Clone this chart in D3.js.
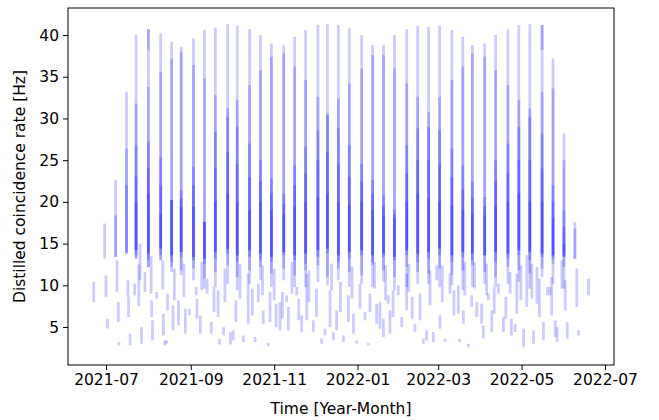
<!DOCTYPE html>
<html>
<head>
<meta charset="utf-8">
<script src="https://cdn.jsdelivr.net/npm/d3@7"></script>
<style>
  body { margin: 0; background: #fff; }
  svg { display: block; }
  text { font-family: "DejaVu Sans", sans-serif; }
</style>
</head>
<body>
<svg id="chart" width="659" height="420"></svg>
<script>
// all times are days since 2021-07-01
var colDay  = [-9, -1, 7, 15, 22, 31, 40, 48, 55, 64, 72, 80, 89, 96, 105, 113, 121, 130, 138, 146, 155, 162, 170,
               178, 187, 195, 203, 211, 220, 228, 236, 244, 253, 261, 268, 277, 285, 294, 302, 310, 319, 327, 335, 343, 353];
var colTop  = [10.4, 17.4, 22.6, 33.2, 40.0, 40.7, 40.2, 39.2, 38.6, 39.6, 40.6, 40.9, 41.3, 41.1, 40.7, 40.0, 39.0, 38.8, 39.8,
               40.6, 41.2, 41.3, 41.2, 40.8, 40.0, 38.8, 38.8, 40.0, 40.7, 41.1, 41.0, 41.1, 40.6, 39.8, 38.8, 39.0, 40.0, 40.7,
               41.2, 41.3, 41.2, 37.2, 28.2, 17.6, 10.8];
var colLow  = [8.0, 13.2, 13.4, 13.8, 13.2, 12.2, 13.0, 12.2, 11.8, 10.6, 9.6, 9.8, 10.2, 9.4, 10.2, 10.6, 9.8, 10.6, 9.8,
               9.8, 10.4, 10.0, 10.6, 9.8, 10.2, 9.8, 10.4, 9.4, 9.8, 10.2, 10.2, 9.8, 10.0, 9.4, 9.8, 10.2, 9.8, 10.2,
               10.4, 9.6, 11.0, 10.2, 9.6, 13.2, 8.8];
var colMid  = [null, null, 18.4, 26.4, 31.8, 33.8, 35.6, 37.2, 38.0, 36.4, 34.8, 32.8, 31.2, 32.2, 34.0, 35.8, 37.4, 37.8, 36.2,
               34.6, 32.6, 30.6, 32.4, 34.2, 36.0, 37.6, 37.6, 36.0, 34.2, 32.6, 30.8, 32.6, 34.6, 36.2, 37.8, 37.4, 35.8, 34.0,
               32.2, 31.2, 33.2, 33.6, 25.0, 16.8, null];
var midLow  = [null, null, 13.4, 13.8, 13.2, 12.2, 13.0, 11.6, 11.2, 12.0, 10.8, 11.6, 12.4, 11.0, 11.8, 12.2, 11.4, 12.0, 11.2,
               11.8, 12.4, 11.0, 12.0, 11.6, 11.2, 12.4, 11.8, 11.0, 12.2, 11.6, 11.4, 12.0, 11.2, 11.8, 12.4, 11.6, 11.0, 12.2,
               11.8, 11.4, 12.0, 12.6, 12.2, 13.2, null];
var colCore = [null, null, null, 22.0, 26.8, 27.2, 25.4, 20.2, 21.4, 24.2, 17.6, 28.4, 30.2, 29.0, 27.0, 25.0, 22.8, 21.0, 24.4,
               26.6, 28.6, 30.4, 28.8, 26.8, 24.6, 22.6, 20.8, 19.0, 26.8, 28.8, 29.0, 28.6, 26.4, 24.4, 22.4, 20.6, 25.0, 27.0,
               29.0, 30.2, 28.2, 22.0, 19.0, null, null];
var coreLow = [null, null, null, 14.0, 13.6, 13.0, 13.6, 12.8, 13.4, 13.0, 12.6, 13.2, 13.8, 12.8, 13.4, 13.0, 12.8, 13.6, 13.0,
               12.6, 13.4, 13.8, 12.8, 13.2, 13.6, 12.8, 13.4, 13.0, 13.6, 12.8, 13.2, 13.6, 12.8, 13.4, 13.0, 13.6, 12.8, 13.2,
               13.6, 13.0, 13.4, 13.2, 13.6, null, null];
var colBody = [null, null, null, null, 23.0, 24.0, 22.0, 20.2, 20.4, 22.0, 17.6, 24.0, 26.0, 24.5, 23.0, 22.5, 21.0, 19.8, 22.0,
               23.5, 25.0, 26.0, 24.5, 23.0, 22.5, 21.0, 19.6, 18.5, 23.5, 25.0, 25.0, 24.5, 23.0, 21.5, 20.5, 19.5, 22.5, 23.5,
               25.0, 25.0, 24.0, 20.0, 17.0, null, null];
var colPeak = [null, null, null, null, 20.0, 21.0, 18.6, 20.2, 19.4, 19.4, 17.6, 20.0, 21.0, 20.0, 19.0, 20.0, 19.0, 18.6, 19.4,
               20.0, 20.6, 21.0, 20.0, 19.6, 20.0, 19.0, 18.4, 18.0, 20.0, 21.0, 20.4, 20.0, 19.6, 19.0, 18.6, 18.4, 19.6, 20.0,
               21.0, 20.0, 20.0, 18.0, 15.0, null, null];
var peakLow = [null, null, null, null, 14.2, 13.8, 14.4, 13.6, 14.0, 13.4, 13.2, 14.0, 14.4, 13.6, 14.2, 13.8, 13.4, 14.0, 13.6,
               13.8, 14.2, 14.4, 13.6, 14.0, 14.2, 13.6, 13.8, 13.4, 14.2, 13.8, 14.0, 14.4, 13.6, 14.0, 13.8, 13.6, 14.0, 13.8,
               14.2, 14.0, 13.8, 13.6, 13.4, null, null];

// short passes between the main columns
var shortDay = [0, 1, 8, 9, 9.5, 16, 16.5, 17.6, 24.9, 21, 26, 28.5, 33.4, 34, 31, 37, 42, 44.4, 45, 43,
                49, 53, 58, 61, 66, 69, 74, 77, 82, 83, 86, 91, 93, 95, 100.5, 104, 109, 111.4, 115, 118.7,
                120, 124.4, 127.3, 132.2, 133.4, 139.5, 143.1, 146.8, 151.6, 157.7, 160.2, 163.9, 166.3, 168.7, 173.6, 177.3,
                183.4, 185.8, 189.5, 191.9, 193.1, 198, 200.4, 202.9, 206.5, 207.7, 213.8, 216.3, 219.9, 226, 229.7,
                232.1, 234.5, 239.4, 241.9, 244.3, 248, 251.6, 257.7, 258.5, 261.4, 265, 267.5, 271.2, 274.8, 279.7,
                282.2, 287, 290.7, 295.6, 299.3, 300.5, 305.4, 307.8, 312.7, 315.2, 320, 324.9, 328.6, 335.9, 337.4,
                344.4, 345.6, 319, 323,
                24, 33, 41.5, 50, 57, 66.5, 70, 79, 87, 98, 107, 114.5, 123, 129, 136, 141, 148.5, 154, 165, 171.5,
                180, 181, 196.5, 204.5, 210, 221.5, 224, 237, 246, 254.5, 262.5, 269.5, 276, 278.5, 284, 292.5, 296.5,
                303.5, 311.5, 317, 326, 330, 333.5];
var shortLo  = [8.6, 4.8, 9.2, 5.6, 2.8, 8.6, 6.2, 2.8, 10.6, 8.8, 3.0, 9.2, 6.2, 3.4, 38.2, 8.4, 4.0, 3.0, 7.0, 2.8,
                4.6, 5.2, 4.2, 6.4, 8.8, 4.2, 9.0, 4.2, 6.2, 2.9, 4.0, 2.9, 3.4, 5.6, 3.2, 5.4, 3.2, 8.0, 5.4, 2.7,
                5.6, 5.0, 4.6, 8.0, 4.6, 8.8, 4.4, 5.8, 4.4, 3.0, 4.0, 5.0, 3.4, 4.6, 3.2, 5.6,
                3.0, 7.2, 5.8, 2.8, 6.8, 5.4, 4.8, 3.8, 7.8, 4.2, 8.8, 5.0, 7.0, 4.4, 5.8,
                3.0, 3.4, 3.2, 10.6, 4.8, 3.2, 9.0, 6.6, 3.2, 5.4, 2.6, 7.4, 6.2, 5.4, 8.2,
                4.4, 9.0, 4.4, 9.0, 4.4, 6.6, 2.6, 7.4, 3.0, 7.8, 3.4, 8.8, 3.8, 7.0, 3.6,
                7.4, 4.0, 38.2, 8.8,
                7.5, 9.0, 9.5, 8.2, 8.6, 6.0, 9.4, 6.8, 8.0, 8.4, 6.4, 8.8, 8.2, 6.0, 9.0, 5.8, 8.0, 6.2, 9.4, 6.8,
                8.4, 4.2, 9.6, 8.2, 6.2, 9.2, 6.0, 7.6, 8.0, 6.4, 8.8, 9.6, 3.6, 8.8, 6.6, 6.0, 4.0,
                8.2, 8.4, 6.2, 6.4, 3.2, 9.6];
var shortHi  = [11.2, 6.0, 13.0, 8.0, 3.2, 10.6, 8.6, 4.2, 15.0, 10.2, 5.0, 11.6, 8.2, 5.8, 40.7, 9.2, 6.6, 3.4, 9.0, 3.4,
                7.6, 8.2, 7.2, 7.2, 9.8, 6.4, 10.8, 5.6, 9.4, 3.6, 5.0, 4.4, 4.6, 8.2, 4.0, 11.4, 3.8, 10.2, 7.0, 3.1,
                9.2, 7.8, 8.0, 8.8, 7.4, 9.8, 6.4, 11.4, 5.8, 3.6, 4.8, 9.4, 4.4, 7.0, 4.0, 8.8,
                3.4, 10.2, 6.8, 3.1, 9.0, 7.8, 8.0, 6.0, 8.8, 7.0, 10.0, 6.2, 11.4, 5.4, 9.0,
                3.6, 4.6, 4.4, 12.4, 6.4, 3.6, 11.4, 10.0, 3.6, 7.0, 3.0, 8.8, 8.0, 7.8, 9.0,
                7.0, 10.2, 6.2, 11.6, 5.4, 11.4, 4.8, 13.6, 4.6, 12.2, 5.6, 9.8, 5.8, 10.6, 5.6,
                12.0, 4.6, 41.2, 9.8,
                12.5, 13.5, 13.0, 12.0, 12.6, 8.4, 12.8, 9.8, 12.0, 12.6, 9.6, 12.4, 12.0, 9.2, 12.8, 8.4, 11.8, 9.6, 12.6, 10.4,
                12.2, 6.6, 12.8, 12.4, 9.4, 12.6, 8.6, 11.8, 12.4, 9.4, 12.8, 12.8, 5.2, 12.6, 9.8, 8.6, 6.0,
                12.4, 12.6, 10.8, 11.0, 5.0, 13.0];

var xTicks = ["2021-07", "2021-09", "2021-11", "2022-01", "2022-03", "2022-05", "2022-07"];
var yTicks = [5, 10, 15, 20, 25, 30, 35, 40];

var t0 = Date.UTC(2021, 6, 1);
function toDate(d) { return new Date(t0 + d * 864e5); }

var plotL = 68, plotR = 614, plotT = 8, plotB = 365;
var fontSize = 15.5;

var x = d3.scaleUtc().domain([toDate(-27.8), toDate(371.6)]).range([plotL, plotR]);
var y = d3.scaleLinear().domain([0.45, 43.24]).range([plotB, plotT]);

// one entry per drawn pass: [day, low, high]
var segs = [];
colDay.forEach(function(d, i) {
    segs.push([d, colLow[i], colTop[i]]);
    if (colMid[i] != null) segs.push([d, midLow[i], colMid[i]]);
    if (colCore[i] != null) segs.push([d, coreLow[i], colCore[i]]);
    if (colBody[i] != null) segs.push([d, peakLow[i], colBody[i]]);
    if (colPeak[i] != null) segs.push([d, peakLow[i], colPeak[i]]);
});
shortDay.forEach(function(d, i) {
    segs.push([d, shortLo[i], shortHi[i]]);
});

var svg = d3.select("#chart");

svg.append("g")
    .selectAll("line")
    .data(segs)
    .enter()
    .append("line")
    .attr("x1", function(d) { return x(toDate(d[0])); })
    .attr("x2", function(d) { return x(toDate(d[0])); })
    .attr("y1", function(d) { return y(d[1]); })
    .attr("y2", function(d) { return y(d[2]); })
    .attr("stroke", "blue")
    .attr("stroke-opacity", 0.2)
    .attr("stroke-width", 2.8);

var parseMonth = d3.utcParse("%Y-%m");

var xAxis = svg.append("g")
    .attr("transform", "translate(0," + plotB + ")")
    .call(d3.axisBottom(x)
        .tickValues(xTicks.map(parseMonth))
        .tickFormat(d3.utcFormat("%Y-%m"))
        .tickSize(5)
        .tickPadding(4));

var yAxis = svg.append("g")
    .attr("transform", "translate(" + plotL + ",0)")
    .call(d3.axisLeft(y)
        .tickValues(yTicks)
        .tickSize(5)
        .tickPadding(4));

[xAxis, yAxis].forEach(function(g) {
    g.select(".domain").remove();
    g.selectAll("text").attr("font-size", fontSize).attr("fill", "#000").attr("font-family", "DejaVu Sans");
    g.selectAll("line").attr("stroke", "#000").attr("stroke-width", 1);
});

svg.append("rect")
    .attr("x", plotL)
    .attr("y", plotT)
    .attr("width", plotR - plotL)
    .attr("height", plotB - plotT)
    .attr("fill", "none")
    .attr("stroke", "#000")
    .attr("stroke-width", 1);

svg.append("text")
    .attr("x", (plotL + plotR) / 2)
    .attr("y", 414)
    .attr("text-anchor", "middle")
    .attr("font-size", fontSize)
    .text("Time [Year-Month]");

svg.append("text")
    .attr("transform", "translate(25," + ((plotT + plotB) / 2) + ") rotate(-90)")
    .attr("text-anchor", "middle")
    .attr("font-size", fontSize)
    .text("Distilled coincidence rate [Hz]");
</script>
</body>
</html>
